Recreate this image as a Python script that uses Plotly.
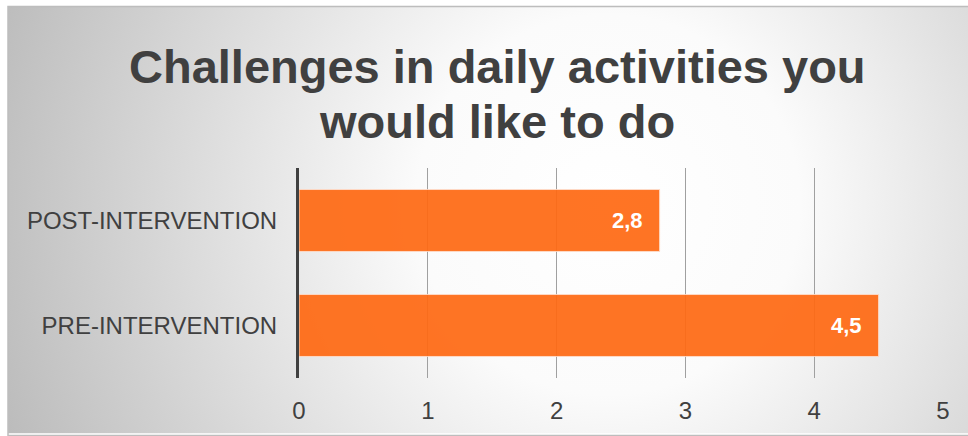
import base64
import plotly.graph_objects as go

# Chart data
categories = ["PRE-INTERVENTION", "POST-INTERVENTION"]
scores = [4.5, 2.8]
tick_values = [0, 1, 2, 3, 4, 5]
tick_labels = ["0", "1", "2", "3", "4", "5"]
title_lines = ["Challenges in daily activities you", "would like to do"]

FONT = "Liberation Sans, Arial, sans-serif"
W, H = 968, 436
M_L, M_R, M_T, M_B = 299, 25, 168, 56
plot_w = W - M_L - M_R
plot_h = H - M_T - M_B

# Radial grey-to-white backdrop for the chart panel
panel_x0, panel_y0 = 8, 5
panel_w, panel_h = W - panel_x0, H - panel_y0
svg = f"""<svg xmlns='http://www.w3.org/2000/svg' width='{panel_w}' height='{panel_h}'>
<defs><radialGradient id='g' gradientUnits='userSpaceOnUse' cx='600' cy='200' r='640'>
<stop offset='0' stop-color='#ffffff'/>
<stop offset='0.3' stop-color='#fbfbfb'/>
<stop offset='1' stop-color='#bcbcbc'/>
</radialGradient></defs>
<rect width='100%' height='100%' fill='url(#g)'/>
</svg>"""
bg_src = "data:image/svg+xml;base64," + base64.b64encode(svg.encode()).decode()


def px_to_paper_x(px):
    return (px - M_L) / plot_w


def px_to_paper_y(py):
    return (H - M_B - py) / plot_h


fig = go.Figure(
    go.Bar(
        y=categories,
        x=scores,
        orientation="h",
        marker=dict(color="#FF6A14", opacity=0.93,
                    line=dict(color="rgba(255,220,200,0.9)", width=1)),
        hoverinfo="skip",
    )
)

# Value labels at the inner end of each bar
for cat, val in zip(categories, scores):
    fig.add_annotation(
        x=val, y=cat, xref="x", yref="y",
        text=f"<b>{val:.1f}</b>".replace(".", ","),
        showarrow=False, xanchor="right", xshift=-15,
        font=dict(family=FONT, size=22, color="white"),
    )

# Two-line bold heading
for line, cy in zip(title_lines, [66, 121]):
    fig.add_annotation(
        x=px_to_paper_x(497), y=px_to_paper_y(cy), xref="paper", yref="paper",
        text=f"<b>{line}</b>", showarrow=False,
        xanchor="center", yanchor="middle",
        font=dict(family=FONT, size=47, color="#404040"),
    )

fig.add_layout_image(
    source=bg_src, xref="paper", yref="paper",
    x=px_to_paper_x(panel_x0), y=px_to_paper_y(panel_y0),
    sizex=panel_w / plot_w, sizey=panel_h / plot_h,
    xanchor="left", yanchor="top", sizing="stretch", layer="below",
)

# Thin frame around the panel
fig.add_shape(
    type="rect", xref="paper", yref="paper",
    x0=px_to_paper_x(panel_x0), x1=px_to_paper_x(W + 2),
    y0=px_to_paper_y(H + 2), y1=px_to_paper_y(panel_y0),
    line=dict(color="#bdbdbd", width=1.5), fillcolor="rgba(0,0,0,0)", layer="below",
)

fig.update_layout(
    width=W, height=H,
    margin=dict(l=M_L, r=M_R, t=M_T, b=M_B),
    paper_bgcolor="white",
    plot_bgcolor="rgba(0,0,0,0)",
    separators=",.",
    showlegend=False,
    bargap=0.41,
    xaxis=dict(
        range=[0, 5], tickvals=tick_values, ticktext=tick_labels,
        showgrid=True, gridcolor="#a0a0a0", gridwidth=1,
        zeroline=False, showline=False, ticks="",
        ticklabelstandoff=16,
        tickfont=dict(family=FONT, size=24, color="#404040"),
        fixedrange=True,
    ),
    yaxis=dict(
        showline=True, linecolor="#404040", linewidth=3,
        showgrid=False, ticks="", ticklabelstandoff=14,
        tickfont=dict(family=FONT, size=24, color="#404040"),
        fixedrange=True,
    ),
)

fig.write_html("out.html", config={"displayModeBar": False})
